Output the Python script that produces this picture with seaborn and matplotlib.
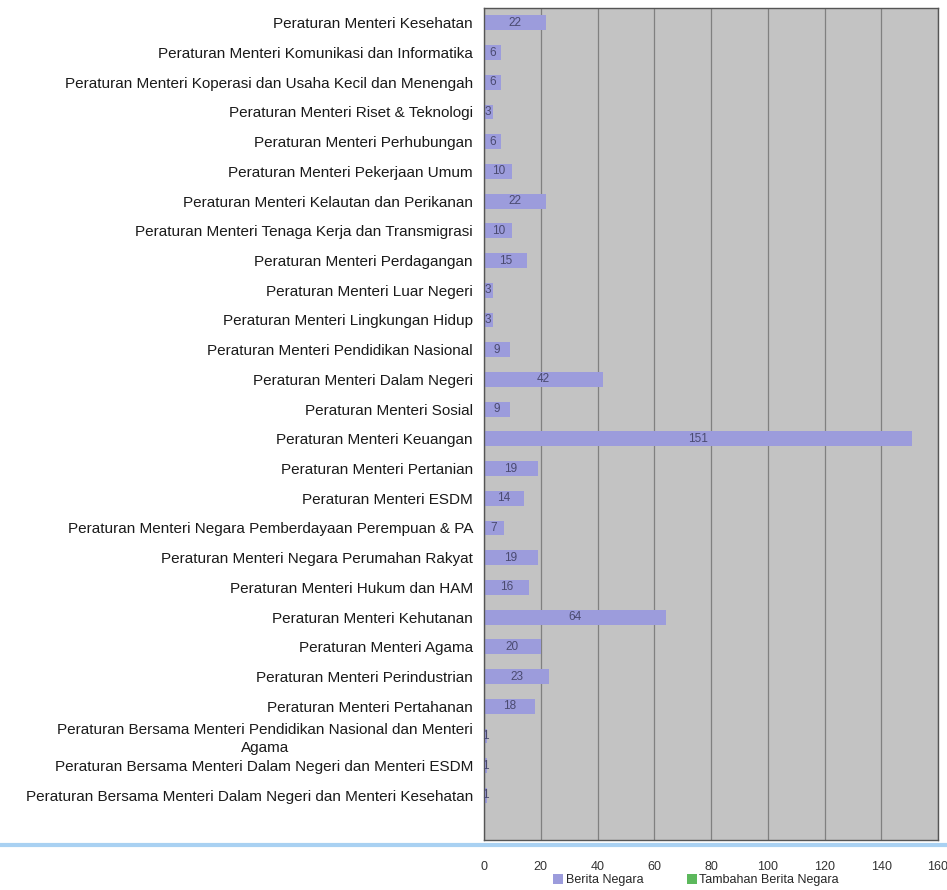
import matplotlib
matplotlib.use("Agg")
import matplotlib.pyplot as plt
from matplotlib.lines import Line2D
from matplotlib.patches import Patch
import numpy as np
import pandas as pd
import seaborn as sns

categories = [
    "Peraturan Menteri Kesehatan",
    "Peraturan Menteri Komunikasi dan Informatika",
    "Peraturan Menteri Koperasi dan Usaha Kecil dan Menengah",
    "Peraturan Menteri Riset & Teknologi",
    "Peraturan Menteri Perhubungan",
    "Peraturan Menteri Pekerjaan Umum",
    "Peraturan Menteri Kelautan dan Perikanan",
    "Peraturan Menteri Tenaga Kerja dan Transmigrasi",
    "Peraturan Menteri Perdagangan",
    "Peraturan Menteri Luar Negeri",
    "Peraturan Menteri Lingkungan Hidup",
    "Peraturan Menteri Pendidikan Nasional",
    "Peraturan Menteri Dalam Negeri",
    "Peraturan Menteri Sosial",
    "Peraturan Menteri Keuangan",
    "Peraturan Menteri Pertanian",
    "Peraturan Menteri ESDM",
    "Peraturan Menteri Negara Pemberdayaan Perempuan & PA",
    "Peraturan Menteri Negara Perumahan Rakyat",
    "Peraturan Menteri Hukum dan HAM",
    "Peraturan Menteri Kehutanan",
    "Peraturan Menteri Agama",
    "Peraturan Menteri Perindustrian",
    "Peraturan Menteri Pertahanan",
    "Peraturan Bersama Menteri Pendidikan Nasional dan Menteri\nAgama",
    "Peraturan Bersama Menteri Dalam Negeri dan Menteri ESDM",
    "Peraturan Bersama Menteri Dalam Negeri dan Menteri Kesehatan",
]
berita_negara = [22, 6, 6, 3, 6, 10, 22, 10, 15, 3, 3, 9, 42, 9, 151,
                 19, 14, 7, 19, 16, 64, 20, 23, 18, 1, 1, 1]
tambahan_berita_negara = [0] * len(categories)
x_ticks = [0, 20, 40, 60, 80, 100, 120, 140, 160]

series_names = ["Berita Negara", "Tambahan Berita Negara"]
series_colors = ["#9c9cdc", "#5cb85c"]

df = pd.DataFrame({"kategori": categories,
                   "Berita Negara": berita_negara,
                   "Tambahan Berita Negara": tambahan_berita_negara})

sns.set_theme(style="white")
plt.rcParams["font.family"] = ["Liberation Sans", "DejaVu Sans"]

fig = plt.figure(figsize=(9.47, 8.9), dpi=100)
ax = fig.add_axes([484 / 947, 1 - 840 / 890, (938 - 484) / 947, (840 - 8) / 890])
ax.set_facecolor("#c3c3c3")

sns.barplot(data=df, y="kategori", x="Berita Negara", orient="h",
            color=series_colors[0], saturation=1, width=0.5, linewidth=0, ax=ax)
sns.barplot(data=df, y="kategori", x="Tambahan Berita Negara", orient="h",
            color=series_colors[1], saturation=1, width=0.5, linewidth=0, ax=ax)

# value labels centred inside the bars
for i, v in enumerate(berita_negara):
    ax.text(v / 2, i, str(v), ha="center", va="center",
            fontsize=8.5, color="#4a4a70")

n = len(categories)
ax.set_xlim(0, 160)
ax.set_ylim(n + 0.5, -0.5)
ax.set_xticks(x_ticks)
ax.set_xticklabels([str(t) for t in x_ticks], fontsize=9, color="#333333")
ax.tick_params(axis="x", length=0, pad=15)
ax.tick_params(axis="y", length=0, pad=8)
for lbl in ax.get_yticklabels():
    lbl.set_fontsize(11)
    lbl.set_color("#1a1a1a")
    lbl.set_multialignment("center")
    lbl.set_linespacing(1.35)
ax.set_yticks(np.arange(-0.5, n + 0.5, 1), minor=True)
ax.tick_params(axis="y", which="minor", length=4, color="#b07080", width=0.8)
ax.set_xlabel("")
ax.set_ylabel("")

ax.grid(axis="x", color="#808080", linewidth=0.9)
ax.set_axisbelow(True)
for side in ax.spines.values():
    side.set_visible(True)
    side.set_color("#555555")
    side.set_linewidth(1)

# light blue rule across the page
fig.add_artist(Line2D([0, 1], [1 - 845 / 890, 1 - 845 / 890],
                      transform=fig.transFigure, color="#a9d1f2", linewidth=3))

handles = [Patch(facecolor=c, edgecolor="none") for c in series_colors]
fig.legend(handles, series_names, loc="center", ncol=2,
           bbox_to_anchor=(696 / 947, 1 - 880 / 890), frameon=False,
           fontsize=9, handlelength=0.8, handleheight=0.8,
           handletextpad=0.2, columnspacing=3.5)

fig.savefig("out.png", dpi=100, facecolor="white")
